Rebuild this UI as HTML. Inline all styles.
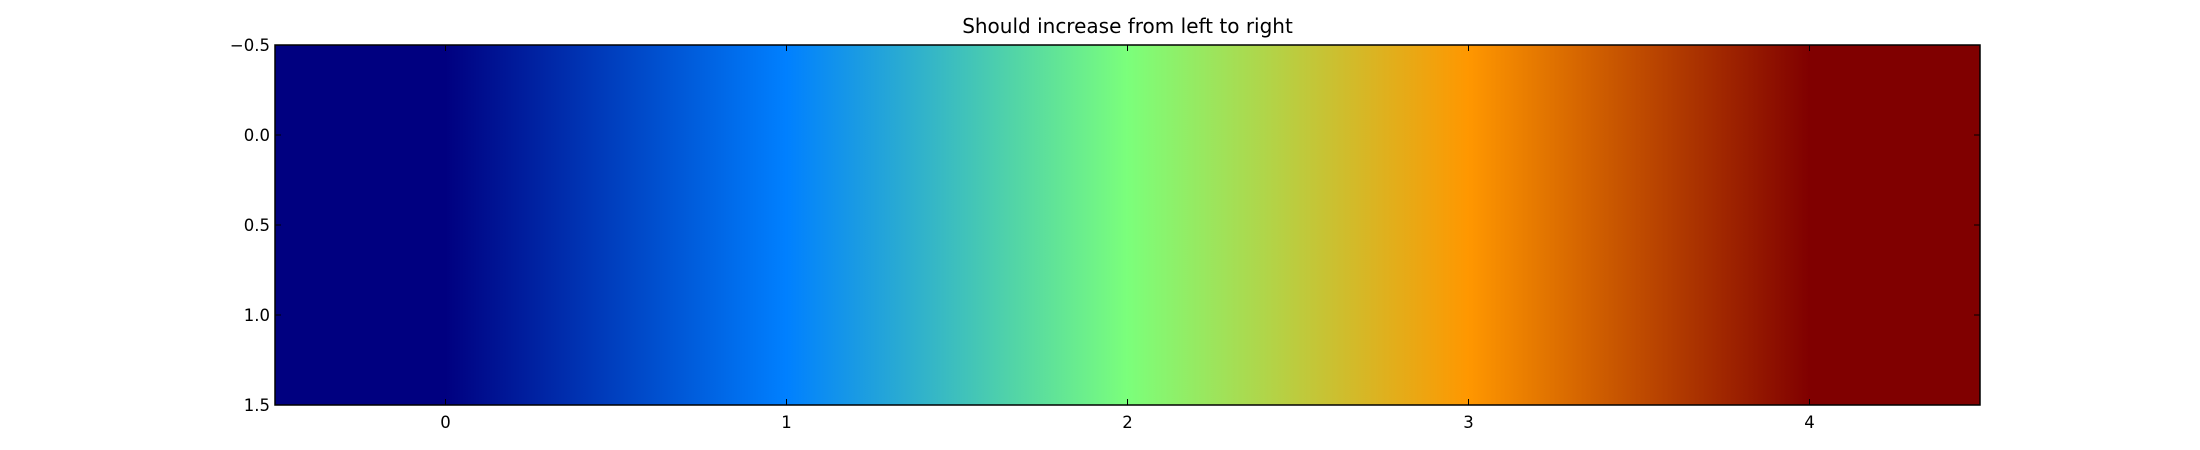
<!DOCTYPE html>
<html><head><meta charset="utf-8"><style>
html,body{margin:0;padding:0;background:#fff;}
svg{display:block;font-family:"DejaVu Sans","Liberation Sans",sans-serif;}
</style></head><body>
<svg id="chart" width="2200" height="450" viewBox="0 0 2200 450" xmlns="http://www.w3.org/2000/svg">
<defs><linearGradient id="grad" gradientUnits="userSpaceOnUse" x1="0" y1="0" x2="1" y2="0"></linearGradient></defs>
<text x="1127.5" y="33" text-anchor="middle" font-size="20">Should increase from left to right</text>
<g id="plot"></g>
</svg>
<script>
const values = [0, 1, 2, 3, 4];
const xTicks = [0, 1, 2, 3, 4];
const xTickLabels = ["0", "1", "2", "3", "4"];
const yTicks = [-0.5, 0, 0.5, 1, 1.5];
const yTickLabels = ["\u22120.5", "0.0", "0.5", "1.0", "1.5"];

const L = 275, R = 1980, T = 45, B = 405;
const xMin = -0.5, xMax = values.length - 0.5, yMin = -0.5, yMax = 1.5;
const xs = v => L + (v - xMin) / (xMax - xMin) * (R - L);
const ys = v => T + (v - yMin) / (yMax - yMin) * (B - T);
const vmin = Math.min(...values), vmax = Math.max(...values);

const jetR = [[0,0],[0.35,0],[0.66,1],[0.89,1],[1,0.5]];
const jetG = [[0,0],[0.125,0],[0.375,1],[0.64,1],[0.91,0],[1,0]];
const jetB = [[0,0.5],[0.11,1],[0.34,1],[0.65,0],[1,0]];
function seg(pts, t){
  for (let i = 1; i < pts.length; i++) {
    if (t <= pts[i][0]) { const [x0,y0] = pts[i-1], [x1,y1] = pts[i]; return y0 + (y1 - y0) * (t - x0) / (x1 - x0); }
  }
  return pts[pts.length-1][1];
}
function jet(t){
  return `rgb(${Math.round(seg(jetR,t)*255)},${Math.round(seg(jetG,t)*255)},${Math.round(seg(jetB,t)*255)})`;
}
const NS = "http://www.w3.org/2000/svg";
const grad = document.getElementById('grad');
grad.setAttribute('x1', xs(xMin));
grad.setAttribute('x2', xs(xMax));
values.forEach((v, i) => {
  const s = document.createElementNS(NS, 'stop');
  s.setAttribute('offset', (xs(i) - xs(xMin)) / (xs(xMax) - xs(xMin)));
  s.setAttribute('stop-color', jet((v - vmin) / (vmax - vmin)));
  grad.appendChild(s);
});
const plot = document.getElementById('plot');
function el(tag, attrs){ const e = document.createElementNS(NS, tag); for (const k in attrs) e.setAttribute(k, attrs[k]); plot.appendChild(e); return e; }

const img = el('rect', {x: xs(xMin), y: ys(yMin), width: xs(xMax) - xs(xMin), height: ys(yMax) - ys(yMin), fill: 'url(#grad)'});



const frame = el('rect', {x: L, y: T, width: R - L, height: B - T, fill: 'none', stroke: '#000', 'stroke-width': 1.5});



xTicks.forEach((v, i) => {
  const x = xs(v);
  el('line', {x1: x, x2: x, y1: B, y2: B - 6, stroke: '#000', 'stroke-width': 1});
  el('line', {x1: x, x2: x, y1: T, y2: T + 6, stroke: '#000', 'stroke-width': 1});
  const t = el('text', {x: x, y: B + 23, 'text-anchor': 'middle', 'font-size': 16.5});
  t.textContent = xTickLabels[i];
  
  
});
yTicks.forEach((v, i) => {
  const y = ys(v);
  el('line', {x1: L, x2: L + 6, y1: y, y2: y, stroke: '#000', 'stroke-width': 1});
  el('line', {x1: R, x2: R - 6, y1: y, y2: y, stroke: '#000', 'stroke-width': 1});
  const t = el('text', {x: L - 5, y: y + 6, 'text-anchor': 'end', 'font-size': 16.5});
  t.textContent = yTickLabels[i];
  
  
});
</script>
</body></html>
